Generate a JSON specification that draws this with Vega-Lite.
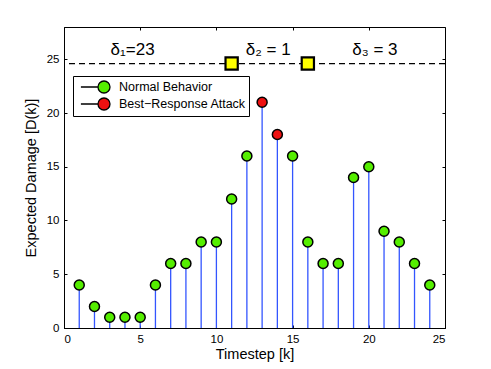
{
  "$schema": "https://vega.github.io/schema/vega-lite/v6.json",
  "autosize": {"type": "none"},
  "width": 381,
  "height": 301,
  "padding": {"left": 64, "top": 27, "right": 46, "bottom": 41},
  "background": "white",
  "config": {
    "view": {"stroke": "black", "strokeWidth": 1},
    "font": "Liberation Sans",
    "axis": {
      "grid": false,
      "domainColor": "black",
      "tickColor": "black",
      "tickSize": -3,
      "labelColor": "black",
      "labelFontSize": 11.5,
      "labelFont": "Liberation Sans",
      "titleFont": "Liberation Sans",
      "titleFontSize": 14.5,
      "titleFontWeight": "normal",
      "titleColor": "black"
    }
  },
  "data": {
    "values": [
      {"k": 1, "d": 4, "type": "Normal Behavior"},
      {"k": 2, "d": 2, "type": "Normal Behavior"},
      {"k": 3, "d": 1, "type": "Normal Behavior"},
      {"k": 4, "d": 1, "type": "Normal Behavior"},
      {"k": 5, "d": 1, "type": "Normal Behavior"},
      {"k": 6, "d": 4, "type": "Normal Behavior"},
      {"k": 7, "d": 6, "type": "Normal Behavior"},
      {"k": 8, "d": 6, "type": "Normal Behavior"},
      {"k": 9, "d": 8, "type": "Normal Behavior"},
      {"k": 10, "d": 8, "type": "Normal Behavior"},
      {"k": 11, "d": 12, "type": "Normal Behavior"},
      {"k": 12, "d": 16, "type": "Normal Behavior"},
      {"k": 13, "d": 21, "type": "Best−Response Attack"},
      {"k": 14, "d": 18, "type": "Best−Response Attack"},
      {"k": 15, "d": 16, "type": "Normal Behavior"},
      {"k": 16, "d": 8, "type": "Normal Behavior"},
      {"k": 17, "d": 6, "type": "Normal Behavior"},
      {"k": 18, "d": 6, "type": "Normal Behavior"},
      {"k": 19, "d": 14, "type": "Normal Behavior"},
      {"k": 20, "d": 15, "type": "Normal Behavior"},
      {"k": 21, "d": 9, "type": "Normal Behavior"},
      {"k": 22, "d": 8, "type": "Normal Behavior"},
      {"k": 23, "d": 6, "type": "Normal Behavior"},
      {"k": 24, "d": 4, "type": "Normal Behavior"}
    ]
  },
  "layer": [
    {
      "mark": {"type": "rule", "color": "#3355ff", "strokeWidth": 1.3},
      "encoding": {
        "x": {"field": "k", "type": "quantitative", "scale": {"domain": [0, 25], "nice": false},
              "axis": {"orient": "bottom", "values": [0, 5, 10, 15, 20, 25], "title": "Timestep [k]", "labelPadding": 8, "titlePadding": 3}},
        "y": {"field": "d", "type": "quantitative", "scale": {"domain": [0, 28], "nice": false},
              "axis": {"orient": "left", "values": [0, 5, 10, 15, 20, 25], "title": "Expected Damage [D(k)]", "labelPadding": 8, "titlePadding": 8}},
        "y2": {"datum": 0}
      }
    },
    {
      "mark": {"type": "point", "shape": "circle", "filled": true, "opacity": 1, "size": 100, "stroke": "black", "strokeWidth": 1.5},
      "encoding": {
        "x": {"field": "k", "type": "quantitative", "axis": null},
        "y": {"field": "d", "type": "quantitative", "axis": null},
        "fill": {
          "field": "type", "type": "nominal",
          "scale": {"domain": ["Normal Behavior", "Best−Response Attack"], "range": ["#55ee00", "#ee1111"]},
          "legend": {
            "orient": "none", "legendX": 9, "legendY": 49, "title": null,
            "symbolType": "M-3.3,0L-0.857,0M0.857,0A0.857,0.857,0,1,1,-0.857,0A0.857,0.857,0,1,1,0.857,0Z",
            "symbolSize": 196, "symbolOffset": 20, "labelOffset": 7, "padding": 3,
            "strokeColor": "black", "fillColor": "white",
            "symbolStrokeColor": "black", "symbolStrokeWidth": 1.3,
            "labelFontSize": 12.5, "labelFont": "Liberation Sans", "labelColor": "black", "rowPadding": -3
          }
        }
      }
    },
    {
      "data": {"values": [{"level": 24.6}]},
      "mark": {"type": "rule", "color": "black", "strokeWidth": 1.2, "strokeDash": [6, 4]},
      "encoding": {
        "y": {"field": "level", "type": "quantitative", "axis": null}
      }
    },
    {
      "data": {"values": [{"k": 11, "level": 24.6}, {"k": 16, "level": 24.6}]},
      "mark": {"type": "square", "filled": true, "fill": "#ffff00", "stroke": "black", "strokeWidth": 2.2, "size": 150, "opacity": 1},
      "encoding": {
        "x": {"field": "k", "type": "quantitative", "axis": {"orient": "top", "values": [0, 5, 10, 15, 20, 25], "labels": false, "title": null, "domain": false}},
        "y": {"field": "level", "type": "quantitative", "axis": {"orient": "right", "values": [0, 5, 10, 15, 20, 25], "labels": false, "title": null, "domain": false}}
      }
    },
    {
      "data": {"values": [
        {"x": 4.5, "y": 25.9, "t": "δ₁=23"},
        {"x": 13.4, "y": 25.9, "t": "δ₂ = 1"},
        {"x": 20.4, "y": 25.9, "t": "δ₃ = 3"}
      ]},
      "mark": {"type": "text", "fontSize": 17, "font": "Liberation Sans", "color": "black", "baseline": "middle", "align": "center"},
      "encoding": {
        "x": {"field": "x", "type": "quantitative", "axis": null},
        "y": {"field": "y", "type": "quantitative", "axis": null},
        "text": {"field": "t"}
      }
    }
  ],
  "resolve": {"axis": {"x": "independent", "y": "independent"}}
}
